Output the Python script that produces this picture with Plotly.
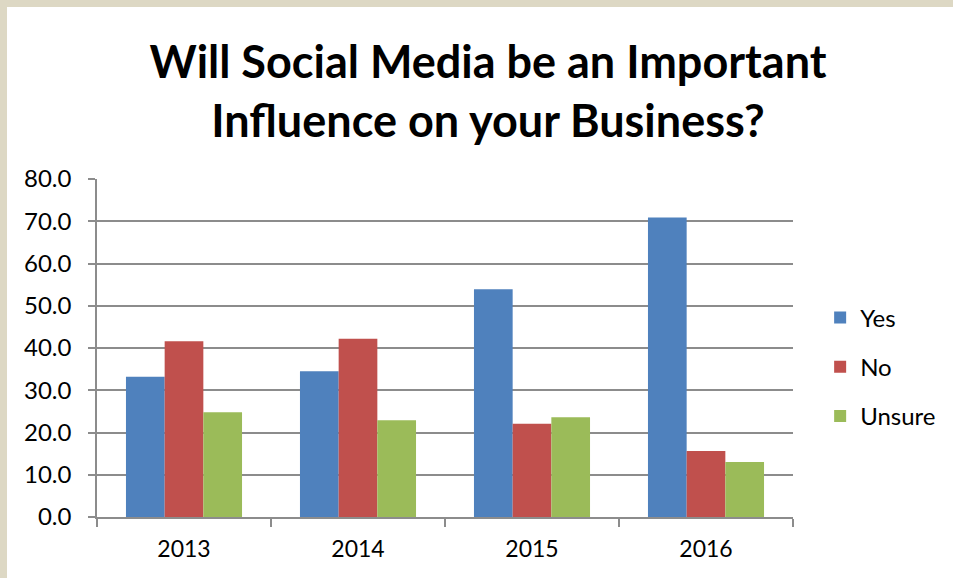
import plotly.graph_objects as go

# Survey results by year (percent of respondents)
years = ["2013", "2014", "2015", "2016"]
yes_vals = [33.2, 34.5, 53.9, 70.9]
no_vals = [41.6, 42.2, 22.1, 15.6]
unsure_vals = [24.8, 22.9, 23.6, 13.0]
series_names = ["Yes", "No", "Unsure"]
series_colors = ["#4F81BD", "#C0504D", "#9BBB59"]
y_ticks = [0, 10, 20, 30, 40, 50, 60, 70, 80]

W, H = 953, 578
ML, MR, MT, MB = 97, 160, 179, 61
PW, PH = W - ML - MR, H - MT - MB
FONT = "Lato, 'Open Sans', sans-serif"
GRID = "#8C8C8C"
FRAME = "#DDD8C4"

fig = go.Figure()
for name, vals, color in zip(series_names, [yes_vals, no_vals, unsure_vals], series_colors):
    fig.add_trace(go.Bar(
        x=years, y=vals, name=name, legendgroup=name,
        marker=dict(color=color, line=dict(width=0)),
    ))

# beige frame strips along the top and left edges of the page
def px_to_paper_x(px):
    return (px - ML) / PW

def px_to_paper_y(py):
    return (H - MB - py) / PH

shapes = [
    dict(type="rect", xref="paper", yref="paper", layer="above",
         x0=px_to_paper_x(0), x1=px_to_paper_x(W),
         y0=px_to_paper_y(7), y1=px_to_paper_y(0),
         fillcolor=FRAME, line=dict(width=0)),
    dict(type="rect", xref="paper", yref="paper", layer="above",
         x0=px_to_paper_x(0), x1=px_to_paper_x(7),
         y0=px_to_paper_y(H), y1=px_to_paper_y(0),
         fillcolor=FRAME, line=dict(width=0)),
]

fig.update_layout(
    width=W, height=H,
    margin=dict(l=ML, r=MR, t=MT, b=MB, pad=0),
    paper_bgcolor="white", plot_bgcolor="white",
    barmode="group", bargap=0.333, bargroupgap=0,
    font=dict(family=FONT, color="black", size=22),
    title=dict(
        text="<b>Will Social Media be an Important<br>Influence on your Business?</b>",
        x=488 / W, xanchor="center", yref="container", y=1 - 78 / H, yanchor="top",
        font=dict(family=FONT, size=45, color="black"),
    ),
    legend=dict(
        x=1.039, xanchor="left", y=0.444, yanchor="middle",
        font=dict(family=FONT, size=24, color="black"),
        tracegroupgap=15, bgcolor="rgba(0,0,0,0)",
    ),
    shapes=shapes,
    showlegend=True,
)

fig.update_xaxes(
    type="category", showgrid=False, showline=True, linecolor=GRID, linewidth=1.5,
    ticks="outside", tickson="boundaries", ticklen=8, tickcolor=GRID, tickwidth=1.5,
    ticklabelstandoff=11,
    tickfont=dict(family=FONT, size=23, color="black"), fixedrange=True,
)
fig.update_yaxes(
    range=[0, 80], tickvals=y_ticks, tickformat=".1f",
    showgrid=True, gridcolor=GRID, gridwidth=1.5,
    showline=True, linecolor=GRID, linewidth=1.5,
    ticks="outside", ticklen=7, tickcolor=GRID, tickwidth=1.5,
    ticklabelstandoff=12,
    tickfont=dict(family=FONT, size=24, color="black"), zeroline=False,
    fixedrange=True,
)

fig.write_html("out.html")
